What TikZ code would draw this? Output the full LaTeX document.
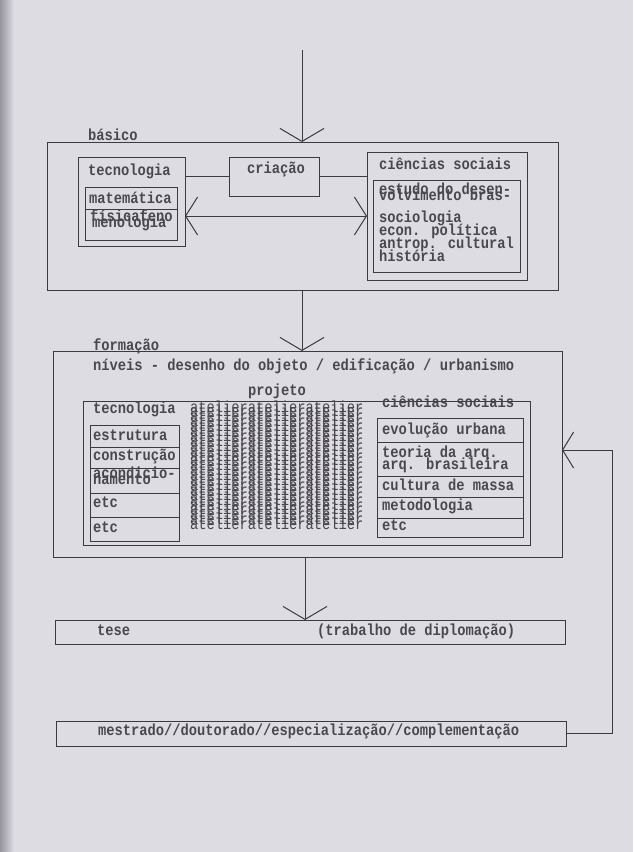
\documentclass[tikz,border=0pt]{standalone}
\usepackage{fontspec}
\newfontfamily\typew[FakeStretch=0.86]{Liberation Mono}
\usetikzlibrary{arrows.meta}
\definecolor{paper}{RGB}{222,220,227}
\definecolor{edge}{RGB}{150,148,156}
\definecolor{ink}{RGB}{60,58,64}
\definecolor{txt}{RGB}{74,72,78}
\begin{document}
\begin{tikzpicture}[x=1pt,y=-1pt,
  every node/.style={inner sep=0pt, outer sep=0pt},
  frame/.style={draw=ink, line width=1pt, rectangle, anchor=north west},
  lbl/.style={anchor=base west, text=txt, font=\typew\bfseries\fontsize{16}{16}\selectfont},
  overp/.style={anchor=base west, text=txt, align=left,
    font={\typew\bfseries\fontsize{16}{6}\selectfont\lineskiplimit=-50pt\lineskip=0pt}},
  hatchtxt/.style={anchor=base west, text=txt, align=left,
    font={\typew\fontsize{16}{4.9}\selectfont\lineskiplimit=-50pt\lineskip=0pt}},
  conn/.style={draw=ink, line width=1pt},
  tipv/.style={conn, -{Straight Barb[length=13pt, width=44pt, line width=1pt]}},
  tiph/.style={conn, {Straight Barb[length=12pt, width=38pt, line width=1pt]}-{Straight Barb[length=12pt, width=38pt, line width=1pt]}},
  tipf/.style={conn, -{Straight Barb[length=11pt, width=36pt, line width=1pt]}},
]
\useasboundingbox (0,0) rectangle (633,852);
\fill[paper] (0,0) rectangle (633,852);
\shade[left color=edge, right color=paper] (0,0) rectangle (14,852);

% ---------- basico ----------
\node[lbl] (tBasico) at (88,140) {básico};
\node[frame, minimum width=511pt, minimum height=148pt] (basico) at (47,142) {};
\node[frame, minimum width=107pt, minimum height=89pt] (tecB) at (78,157) {};
\node[lbl] (tTecB) at (88,175) {tecnologia};
\node[frame, minimum width=92pt, minimum height=22pt] (matRow) at (85,187) {};
\node[frame, minimum width=92pt, minimum height=31pt] (fisRow) at (85,209) {};
\node[lbl] (tMat) at (89,203) {matemática};
% multi-line nodes: base anchor = baseline of the last line
\node[overp] (tFis) at (90,227) {físicafeno\\\hspace{2pt}menologia};

\node[frame, minimum width=90pt, minimum height=39pt] (criacao) at (229,157) {};
\node[lbl] (tCria) at (247,173) {criação};

\node[frame, minimum width=160pt, minimum height=128pt] (cs) at (367,152) {};
\node[lbl] (tCS) at (379,169) {ciências sociais};
\node[frame, minimum width=147pt, minimum height=92pt] (csin) at (373,180) {};
\node[overp] (tEst) at (379,200) {estudo do desen-\\volvimento bras-};
\node[lbl] (tSoc) at (379,222) {sociologia};
\node[lbl] (tEcon) at (379,235) {econ. política};
\node[lbl] (tAnt) at (379,248) {antrop. cultural};
\node[lbl] (tHist) at (379,261) {história};

\coordinate (topIn) at (302,50);
\coordinate (dblY) at (0,216);
\draw[tipv] (topIn) -- (topIn |- basico.north);
\draw[conn] (tecB.east |- criacao.west) -- (criacao.west);
\draw[conn] (criacao.east) -- (cs.west |- criacao.east);
\draw[tiph] (tecB.east |- dblY) -- (cs.west |- dblY);

% ---------- formacao ----------
\node[lbl] (tForm) at (93,350) {formação};
\node[frame, minimum width=509pt, minimum height=206pt] (formacao) at (53,351) {};
\node[lbl] (tNiv) at (93,370) {níveis - desenho do objeto / edificação / urbanismo};
\node[lbl] (tProj) at (248,395) {projeto};
\node[frame, minimum width=447pt, minimum height=144pt] (proj) at (83,401) {};
\node[lbl] (tTecF) at (93,413) {tecnologia};
\node[lbl] (tCSF) at (382,407) {ciências sociais};

\node[frame, minimum width=89pt, minimum height=22pt] (lr1) at (90,425) {};
\node[frame, minimum width=89pt, minimum height=21pt] (lr2) at (90,447) {};
\node[frame, minimum width=89pt, minimum height=25pt] (lr3) at (90,468) {};
\node[frame, minimum width=89pt, minimum height=24pt] (lr4) at (90,493) {};
\node[frame, minimum width=89pt, minimum height=24pt] (lr5) at (90,517) {};
\node[lbl] (tEstr) at (93,440) {estrutura};
\node[lbl] (tCons) at (93,460) {construção};
\node[overp] (tAcon) at (93,484) {acondicio-\\namento};
\node[lbl] (tEtc1) at (93,507) {etc};
\node[lbl] (tEtc2) at (93,532) {etc};

\node[frame, minimum width=146pt, minimum height=24pt] (rr1) at (377,418) {};
\node[frame, minimum width=146pt, minimum height=34pt] (rr2) at (377,442) {};
\node[frame, minimum width=146pt, minimum height=21pt] (rr3) at (377,476) {};
\node[frame, minimum width=146pt, minimum height=21pt] (rr4) at (377,497) {};
\node[frame, minimum width=146pt, minimum height=19pt] (rr5) at (377,518) {};
\node[lbl] (tEvo) at (382,434) {evolução urbana};
\node[lbl] (tTeo) at (382,457) {teoria da arq.};
\node[lbl] (tArq) at (382,469) {arq. brasileira};
\node[lbl] (tCult) at (382,490) {cultura de massa};
\node[lbl] (tMet) at (382,510) {metodologia};
\node[lbl] (tEtc3) at (382,530) {etc};

\node[hatchtxt] (hatch) at (190,529.6) {atelieratelieratelier\\atelieratelieratelier\\atelieratelieratelier\\atelieratelieratelier\\atelieratelieratelier\\atelieratelieratelier\\atelieratelieratelier\\atelieratelieratelier\\atelieratelieratelier\\atelieratelieratelier\\atelieratelieratelier\\atelieratelieratelier\\atelieratelieratelier\\atelieratelieratelier\\atelieratelieratelier\\atelieratelieratelier\\atelieratelieratelier\\atelieratelieratelier\\atelieratelieratelier\\atelieratelieratelier\\atelieratelieratelier\\atelieratelieratelier\\atelieratelieratelier\\atelieratelieratelier\\atelieratelieratelier};

\draw[tipv] (basico.south -| topIn) -- (formacao.north -| topIn);

% ---------- tese / mestrado ----------
\node[frame, minimum width=510pt, minimum height=24pt] (tese) at (55,620) {};
\node[lbl] (tTese) at (97,635) {tese};
\node[lbl] (tTrab) at (317,635) {(trabalho de diplomação)};
\coordinate (teseX) at (305,0);
\draw[tipv] (formacao.south -| teseX) -- (tese.north -| teseX);

\node[frame, minimum width=510pt, minimum height=25pt] (mestr) at (56,721) {};
\node[lbl] (tMest) at (98,735) {mestrado//doutorado//especialização//complementação};

\coordinate (fbX) at (612,0);
\coordinate (fbY) at (0,450);
\draw[tipf] (mestr.east) -- (mestr.east -| fbX) -- (fbX |- fbY) -- (formacao.east |- fbY);
\end{tikzpicture}
\end{document}
